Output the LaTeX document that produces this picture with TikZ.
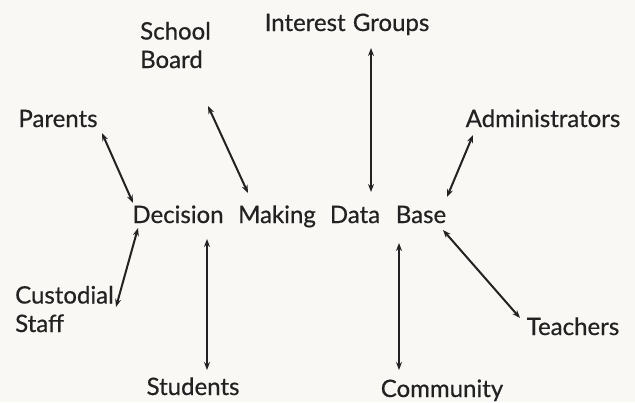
\documentclass[tikz,border=0pt]{standalone}
\usepackage{fontspec}
\setmainfont{Lato}
\newfontfamily\labelfont{Lato}[FakeBold=0.6,UprightFont=*,BoldFont=*]
\usetikzlibrary{arrows.meta}
\definecolor{paper}{HTML}{F9F8F4}
\definecolor{ink}{HTML}{222222}
\begin{document}
\begin{tikzpicture}[x=1pt,y=-1pt,
  lbl/.style={text=ink,font=\labelfont\fontsize{24}{28.5}\selectfont\bfseries,inner sep=0pt,anchor=base},
  link/.style={draw=ink,line width=2pt,{Stealth[length=8pt,width=6pt]}-{Stealth[length=8pt,width=6pt]}}]
\fill[paper] (0,0) rectangle (635,402);
\useasboundingbox (0,0) rectangle (635,402);
% hub words
\node[lbl] (decision) at (178,223) {Decision};
\node[lbl] (making) at (277,223) {Making};
\node[lbl] (data) at (355,223) {Data};
\node[lbl] (base) at (421,223) {Base};
% surrounding groups
\node[lbl] (interest) at (347,31) {Interest\hspace{0.3em}Groups};
\node[lbl,anchor=base west,align=left] (board) at (140,68) {School\\Board};
\node[lbl] (parents) at (58,127) {Parents};
\node[lbl] (admin) at (543,127) {Administrators};
\node[lbl,anchor=base west,align=left] (custodial) at (15,332) {Custodial\\Staff};
\node[lbl] (students) at (193,395) {Students};
\node[lbl] (community) at (442,397) {Community};
\node[lbl] (teachers) at (573,335) {Teachers};
% arrow ends
\coordinate (ig1) at (371,48);  \coordinate (ig2) at (371,192);
\coordinate (sb1) at (208,106); \coordinate (sb2) at (248,193);
\coordinate (pa1) at (102,133); \coordinate (pa2) at (133,203);
\coordinate (ad1) at (473,135); \coordinate (ad2) at (447,197);
\coordinate (cs1) at (138,228); \coordinate (cs2) at (116,307);
\coordinate (st1) at (207,239); \coordinate (st2) at (207,370);
\coordinate (co1) at (399,243); \coordinate (co2) at (399,370);
\coordinate (te1) at (443,230); \coordinate (te2) at (520,318);
\draw[link] (ig1) -- (ig2);
\draw[link] (sb1) -- (sb2);
\draw[link] (pa1) -- (pa2);
\draw[link] (ad1) -- (ad2);
\draw[link] (cs1) -- (cs2);
\draw[link] (st1) -- (st2);
\draw[link] (co1) -- (co2);
\draw[link] (te1) -- (te2);
\end{tikzpicture}
\end{document}
